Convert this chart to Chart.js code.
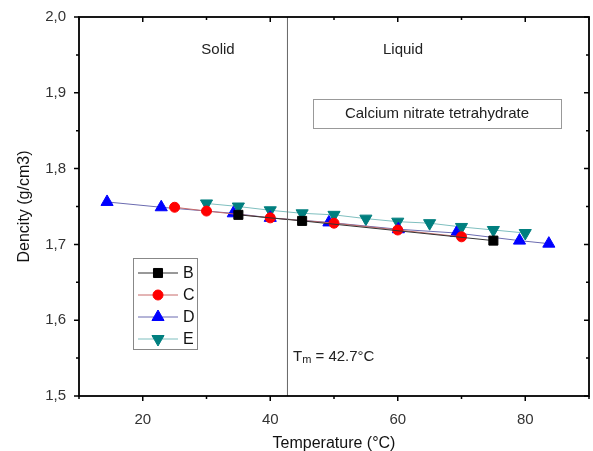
<!DOCTYPE html>
<html>
<head>
<meta charset="utf-8">
<script src="https://cdn.jsdelivr.net/npm/chart.js@4.4.1/dist/chart.umd.min.js"></script>
<style>
  html, body { margin: 0; padding: 0; background: #fff; overflow: hidden; }
  canvas { display: block; }
</style>
</head>
<body>
<canvas id="density-chart" width="593" height="451"></canvas>
<script>
// values
const tempB = [35, 45, 75];
const densB = [1.739, 1.731, 1.705];
const tempC = [25, 30, 40, 50, 60, 70];
const densC = [1.749, 1.744, 1.735, 1.728, 1.719, 1.710];
const tempD = [14.4, 22.9, 34.2, 40, 49.2, 60.1, 69.2, 79.1, 83.7];
const densD = [1.756, 1.749, 1.741, 1.735, 1.729, 1.720, 1.715, 1.705, 1.701];
const tempE = [30, 35, 40, 45, 50, 55, 60, 65, 70, 75, 80];
const densE = [1.754, 1.750, 1.745, 1.741, 1.739, 1.734, 1.730, 1.728, 1.723, 1.719, 1.715];

const xTicks = [20, 40, 60, 80];
const xMinor = [10, 30, 50, 70, 90];
const yTicks = [1.5, 1.6, 1.7, 1.8, 1.9, 2.0];
const yMinor = [1.55, 1.65, 1.75, 1.85, 1.95];
const meltTemp = 42.7;

const pts = (xs, ys) => xs.map((x, i) => ({ x: x, y: ys[i] }));
const font = 'Liberation Sans, Arial, sans-serif';

const series = [
  { label: 'B', data: pts(tempB, densB), line: '#333333', fill: '#000000', style: 'rect', radius: 6.4, rot: 0 },
  { label: 'C', data: pts(tempC, densC), line: '#c86a6a', fill: '#ff0000', style: 'circle', radius: 5, rot: 0 },
  { label: 'D', data: pts(tempD, densD), line: '#6b6bb0', fill: '#0000ff', style: 'triangle', radius: 7, rot: 0 },
  { label: 'E', data: pts(tempE, densE), line: '#7fbfbf', fill: '#007f7f', style: 'triangle', radius: 7, rot: 180 }
];

const frame = {
  id: 'frame',
  afterDatasetsDraw(chart) {
    const { ctx, chartArea: a, scales: { x, y } } = chart;
    ctx.save();
    // melting point line
    const mx = x.getPixelForValue(meltTemp);
    ctx.strokeStyle = '#666';
    ctx.lineWidth = 1;
    ctx.beginPath();
    ctx.moveTo(mx, a.top);
    ctx.lineTo(mx, a.bottom);
    ctx.stroke();

    // box
    ctx.strokeStyle = '#000';
    ctx.lineWidth = 1.8;
    ctx.strokeRect(a.left, a.top, a.right - a.left, a.bottom - a.top);

    // ticks
    ctx.lineWidth = 1.5;
    ctx.beginPath();
    xTicks.forEach(v => {
      const px = x.getPixelForValue(v);
      ctx.moveTo(px, a.bottom); ctx.lineTo(px, a.bottom + 5);
      ctx.moveTo(px, a.top); ctx.lineTo(px, a.top + 5);
    });
    xMinor.forEach(v => {
      const px = x.getPixelForValue(v);
      ctx.moveTo(px, a.bottom); ctx.lineTo(px, a.bottom + 3);
      ctx.moveTo(px, a.top); ctx.lineTo(px, a.top + 3);
    });
    yTicks.forEach(v => {
      const py = y.getPixelForValue(v);
      ctx.moveTo(a.left, py); ctx.lineTo(a.left - 5, py);
      ctx.moveTo(a.right, py); ctx.lineTo(a.right - 5, py);
    });
    yMinor.forEach(v => {
      const py = y.getPixelForValue(v);
      ctx.moveTo(a.left, py); ctx.lineTo(a.left - 3, py);
      ctx.moveTo(a.right, py); ctx.lineTo(a.right - 3, py);
    });
    ctx.stroke();

    // texts
    ctx.fillStyle = '#222';
    ctx.font = '15px ' + font;
    ctx.textBaseline = 'middle';
    ctx.textAlign = 'center';
    ctx.fillText('Solid', 218, 50);
    ctx.fillText('Liquid', 403, 50);

    ctx.strokeStyle = '#999';
    ctx.lineWidth = 1;
    ctx.strokeRect(313.5, 99.5, 248, 29);
    ctx.fillText('Calcium nitrate tetrahydrate', 437, 114);

    ctx.textAlign = 'left';
    ctx.fillText('T', 293, 357);
    const tw = ctx.measureText('T').width;
    ctx.font = '11px ' + font;
    ctx.fillText('m', 293 + tw, 360);
    const mw = ctx.measureText('m').width;
    ctx.font = '15px ' + font;
    ctx.fillText(' = 42.7°C', 293 + tw + mw, 357);

    // legend
    ctx.strokeStyle = '#888';
    ctx.strokeRect(133.5, 258.5, 64, 91);
    const rows = [273, 295, 317, 339];
    series.forEach((s, i) => {
      const ry = rows[i];
      ctx.strokeStyle = s.line;
      ctx.lineWidth = 1;
      ctx.beginPath();
      ctx.moveTo(138, ry); ctx.lineTo(178, ry);
      ctx.stroke();
      ctx.fillStyle = s.fill;
      ctx.strokeStyle = s.fill;
      Chart.helpers.drawPoint(ctx, { pointStyle: s.style, radius: s.radius, rotation: s.rot, borderWidth: 1 }, 158, ry);
      ctx.fillStyle = '#111';
      ctx.font = '16px ' + font;
      ctx.textAlign = 'left';
      ctx.fillText(s.label, 183, ry + 1);
    });
    ctx.restore();
  }
};

new Chart(document.getElementById('density-chart'), {
  type: 'line',
  data: {
    datasets: series.map(s => ({
      label: s.label,
      data: s.data,
      borderColor: s.line,
      borderWidth: 1,
      backgroundColor: s.fill,
      pointBackgroundColor: s.fill,
      pointBorderColor: s.fill,
      pointStyle: s.style,
      pointRadius: s.radius,
      pointRotation: s.rot,
      pointBorderWidth: 1,
      tension: 0
    }))
  },
  options: {
    responsive: false,
    animation: false,
    devicePixelRatio: 1,
    layout: { autoPadding: false, padding: { top: 17, right: 4, left: 0, bottom: 0 } },
    plugins: { legend: { display: false }, tooltip: { enabled: false } },
    scales: {
      x: {
        type: 'linear',
        min: 10,
        max: 90,
        afterBuildTicks: scale => { scale.ticks = xTicks.map(v => ({ value: v })); },
        afterFit: scale => { scale.height = 55; scale.paddingLeft = 0; scale.paddingRight = 0; },
        grid: { display: false },
        border: { display: false },
        ticks: { color: '#333', font: { family: font, size: 15 }, padding: 7 },
        title: { display: true, text: 'Temperature (°C)', color: '#111', font: { family: font, size: 16 }, padding: { top: 0, bottom: -2 } }
      },
      y: {
        min: 1.5,
        max: 2.0,
        afterBuildTicks: scale => { scale.ticks = yTicks.map(v => ({ value: v })); },
        afterFit: scale => { scale.width = 79; },
        grid: { display: false },
        border: { display: false },
        ticks: { color: '#333', font: { family: font, size: 15 }, padding: 5, callback: v => v.toFixed(1).replace('.', ',') },
        title: { display: true, text: 'Dencity (g/cm3)', color: '#111', font: { family: font, size: 16 }, padding: { top: 15, bottom: 0 } }
      }
    }
  },
  plugins: [frame]
});
</script>
</body>
</html>
